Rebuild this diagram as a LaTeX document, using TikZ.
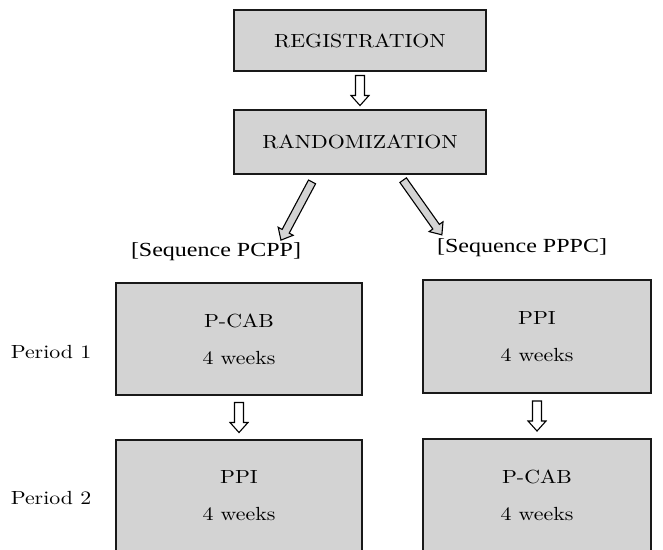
\documentclass[tikz,border=0pt]{standalone}
\usepackage{fontspec}
\usepackage{graphicx}
\usetikzlibrary{calc}
\newfontfamily\tms{Liberation Serif}
\newfontfamily\lmten{lmroman10-regular.otf}
\definecolor{boxgray}{RGB}{211,211,211}
\newcommand{\hs}[1]{\scalebox{1.15}[1]{#1}}
\newcommand{\hsq}[1]{\scalebox{1.2}[1]{#1}}
% block arrow: #1 name, #2 fill, #3 centre, #4 angle, #5 length, #6 shaft half width, #7 head half width
\newcommand{\blkarrow}[7]{%
  \begin{scope}[shift={#3}, rotate=#4]
    \coordinate (#1) at (0,0);
    \draw[arrowline, fill=#2] ({-#5/2},-#6) -- ({#5/2-10},-#6) -- ({#5/2-10},-#7) -- ({#5/2},0)
      -- ({#5/2-10},#7) -- ({#5/2-10},#6) -- ({-#5/2},#6) -- cycle;
  \end{scope}}
\tikzset{
  box/.style={draw=black!90, line width=1.5pt, fill=boxgray, inner sep=0pt, align=center,
              font=\lmten\fontsize{19}{37}\selectfont},
  arrowline/.style={draw=black, line width=1.1pt, line join=miter},
  lbl/.style={font=\lmten\fontsize{19}{23}\selectfont, inner sep=0pt},
  seq/.style={font=\tms\fontsize{20}{24}\selectfont, inner sep=0pt}
}
\begin{document}
\begin{tikzpicture}[x=1pt,y=-1pt]
\useasboundingbox (0,0) rectangle (663,549);
\clip (0,0) rectangle (663,549);
% top boxes
\node[box, minimum width=252pt, minimum height=61pt] (reg) at (360,40.5) {\hs{REGISTRATION}};
\node[box, minimum width=252pt, minimum height=64pt] (rand) at (360,142) {\hs{RANDOMIZATION}};
% sequence labels
\node[seq] (seqL) at (216,252) {\hsq{[Sequence PCPP]}};
\node[seq] (seqR) at (522,248) {\hsq{[Sequence PPPC]}};
% period boxes
\node[box, minimum width=246pt, minimum height=112pt] (l1) at (239,339) {\hs{P-CAB}\\\hs{4 weeks}};
\node[box, minimum width=228pt, minimum height=113pt] (r1) at (537,336.5) {\hs{PPI}\\\hs{4 weeks}};
\node[box, minimum width=246pt, minimum height=112pt] (l2) at (239,496) {\hs{PPI}\\\hs{4 weeks}};
\node[box, minimum width=228pt, minimum height=112pt] (r2) at (537,495) {\hs{P-CAB}\\\hs{4 weeks}};
% period labels
\node[lbl] (p1) at (51,352) {\hs{Period 1}};
\node[lbl] (p2) at (51,498) {\hs{Period 2}};
% block arrows
\blkarrow{a1}{white}{($(reg.south)!0.5!(rand.north)$)}{-90}{30}{4.5}{9}
\blkarrow{aL}{boxgray}{(296.5,211)}{-118.1}{66}{4}{8.5}
\blkarrow{aR}{boxgray}{(422.5,207.5)}{-54.7}{67}{4}{8.5}
\blkarrow{a2}{white}{($(l1.south)!0.5!(l2.north)$)}{-90}{30}{4.5}{9}
\blkarrow{a3}{white}{($(r1.south)!0.5!(r2.north)$)}{-90}{30}{4.5}{9}
\end{tikzpicture}
\end{document}
